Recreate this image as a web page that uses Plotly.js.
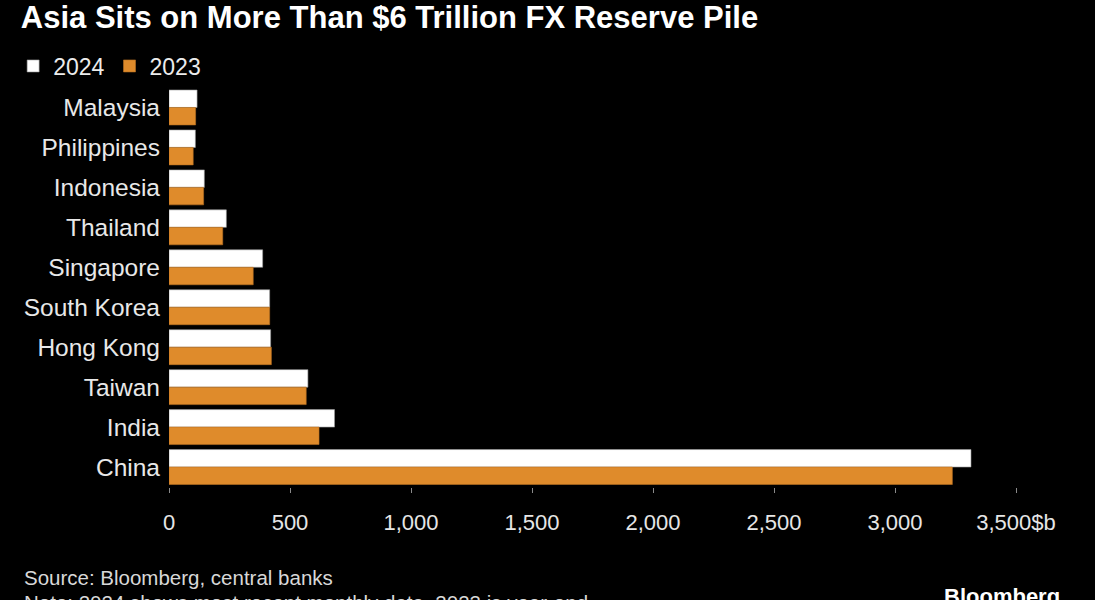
<!DOCTYPE html>
<html>
<head>
<meta charset="utf-8">
<script src="https://cdn.plot.ly/plotly-3.0.1.min.js"></script>
<style>
html,body{margin:0;padding:0;background:#000;}
#chart{width:1095px;height:600px;}
</style>
</head>
<body>
<div id="chart"></div>
<script>
const countries = ["Malaysia","Philippines","Indonesia","Thailand","Singapore","South Korea","Hong Kong","Taiwan","India","China"];
const reserves2024 = [116, 109, 146, 237, 387, 416, 420, 574, 684, 3314];
const reserves2023 = [110, 100, 143, 222, 348, 416, 423, 567, 620, 3237];
const tickValues = [0, 500, 1000, 1500, 2000, 2500, 3000, 3500];
const tickLabels = ["0", "500", "1,000", "1,500", "2,000", "2,500", "3,000", "3,500$b"];

const W = 1095, H = 600, L = 169, R = 79, T = 87, B = 113;
const pw = W - L - R, ph = H - T - B;
const px = v => (v - L) / pw;
const py = v => (H - B - v) / ph;

const traces = [
  {type:"bar", orientation:"h", name:"2024", y:countries, x:reserves2024,
   marker:{color:"#ffffff", line:{color:"#9a9a9a", width:0.6}}},
  {type:"bar", orientation:"h", name:"2023", y:countries, x:reserves2023,
   marker:{color:"#df8b2b", line:{color:"#b87022", width:0.6}}}
];

const layout = {
  width:W, height:H,
  paper_bgcolor:"#000", plot_bgcolor:"#000",
  font:{family:"Liberation Sans, Arial, sans-serif", color:"#e8e8e8", size:20},
  margin:{l:L, r:R, t:T, b:B},
  barmode:"group", bargap:0.125, bargroupgap:0,
  title:{text:"<b>Asia Sits on More Than $6 Trillion FX Reserve Pile</b>",
    font:{family:"Liberation Sans, Arial, sans-serif", size:31, color:"#ffffff"},
    xref:"container", yref:"container", x:0.019, xanchor:"left", y:0.972, yanchor:"middle"},
  showlegend:true,
  legend:{orientation:"h", xref:"container", yref:"container", x:0.012, y:0.89, xanchor:"left", yanchor:"middle",
    font:{size:23, color:"#ececec"}, itemwidth:30, traceorder:"normal", bgcolor:"rgba(0,0,0,0)"},
  xaxis:{range:[0,3500], tickmode:"array", tickvals:tickValues, ticktext:tickLabels,
    showgrid:false, zeroline:false, showline:false,
    ticks:"outside", ticklen:5, tickcolor:"#8a8a8a", tickwidth:1,
    tickfont:{family:"Liberation Sans, Arial, sans-serif", size:22, color:"#e6e6e6"},
    ticklabelstandoff:11, fixedrange:true},
  yaxis:{autorange:"reversed", showgrid:false, zeroline:false, showline:false, ticks:"",
    tickfont:{size:24.5, color:"#e8e8e8"}, ticklabelstandoff:8, fixedrange:true},
  annotations:[
    {text:"Source: Bloomberg, central banks", xref:"paper", yref:"paper",
     x:px(22), y:py(578), xanchor:"left", yanchor:"middle", showarrow:false,
     font:{family:"Liberation Sans, Arial, sans-serif", size:20.5, color:"#d8d8d8"}},
    {text:"Note: 2024 shows most recent monthly data, 2023 is year-end", xref:"paper", yref:"paper",
     x:px(22), y:py(603), xanchor:"left", yanchor:"middle", showarrow:false,
     font:{family:"Liberation Sans, Arial, sans-serif", size:20.5, color:"#d8d8d8"}},
    {text:"<b>Bloomberg</b>", xref:"paper", yref:"paper",
     x:px(1062), y:py(597), xanchor:"right", yanchor:"middle", showarrow:false,
     font:{family:"Liberation Sans, Arial, sans-serif", size:22, color:"#ffffff"}}
  ]
};

Plotly.newPlot("chart", traces, layout, {displayModeBar:false, staticPlot:true});
</script>
</body>
</html>
